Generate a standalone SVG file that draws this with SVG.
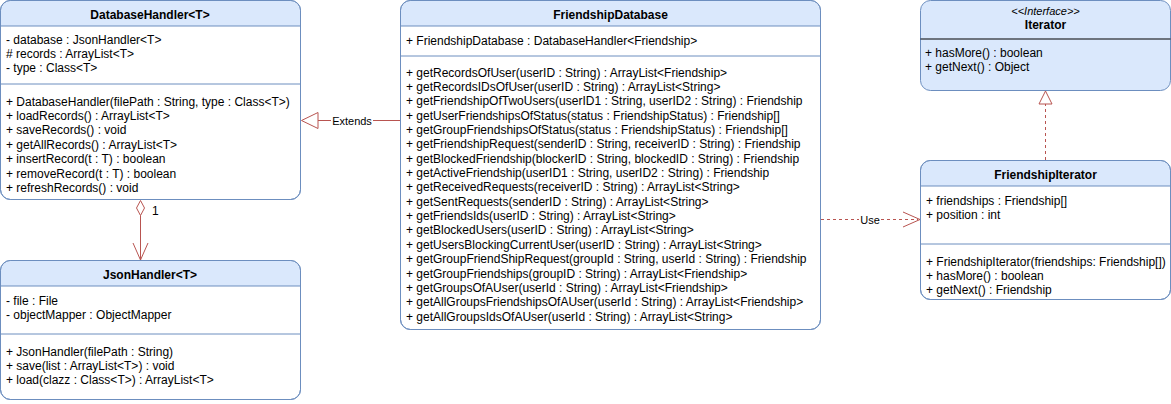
<svg xmlns="http://www.w3.org/2000/svg" width="1171" height="404" viewBox="0 0 1171 404">
<style>
.box{fill:#ffffff;stroke:#6c8ebf;stroke-width:1}
.hdr{fill:#dae8fc;stroke:none}
.sep{stroke:#6c8ebf;stroke-width:1}
.t{font-family:"Liberation Sans",Arial,Helvetica,sans-serif;font-size:12px;fill:#000}
.b{font-weight:bold}
.c{text-anchor:middle}
.i{font-style:italic;font-size:11px}
.con{stroke:#b85450;stroke-width:1;fill:none}
.dash{stroke-dasharray:3,3}
.lbl{font-family:"Liberation Sans",Arial,Helvetica,sans-serif;font-size:11px;fill:#000;text-anchor:middle}
</style>
<rect width="1171" height="404" fill="#ffffff"/>

<g id="DatabaseHandler">
<rect class="box" x="0.5" y="0.5" width="300" height="199" rx="10"/>
<path class="hdr" d="M1,26 V10.5 A10,10 0 0 1 10.5,1 H290.5 A10,10 0 0 1 300,10.5 V26 Z"/>
<rect x="0.5" y="0.5" width="300" height="199" rx="10" fill="none" stroke="#6c8ebf"/>
<line class="sep" x1="0.5" y1="26" x2="300.5" y2="26"/>
<line class="sep" x1="0.5" y1="84" x2="300.5" y2="84"/>
<text class="t b c" x="150" y="18.5">DatabaseHandler&lt;T&gt;</text>
<text class="t" x="6" y="43.5"><tspan x="6">- database : JsonHandler&lt;T&gt;</tspan><tspan x="6" dy="14.4"># records : ArrayList&lt;T&gt;</tspan><tspan x="6" dy="14.4">- type : Class&lt;T&gt;</tspan></text>
<text class="t" x="6" y="105.5"><tspan x="6">+ DatabaseHandler(filePath : String, type : Class&lt;T&gt;)</tspan><tspan x="6" dy="14.4">+ loadRecords() : ArrayList&lt;T&gt;</tspan><tspan x="6" dy="14.4">+ saveRecords() : void</tspan><tspan x="6" dy="14.4">+ getAllRecords() : ArrayList&lt;T&gt;</tspan><tspan x="6" dy="14.4">+ insertRecord(t : T) : boolean</tspan><tspan x="6" dy="14.4">+ removeRecord(t : T) : boolean</tspan><tspan x="6" dy="14.4">+ refreshRecords() : void</tspan></text>
</g>

<g id="JsonHandler">
<rect class="box" x="0.5" y="260.5" width="300" height="139" rx="10"/>
<path class="hdr" d="M1,286 V270.5 A10,10 0 0 1 10.5,261 H290.5 A10,10 0 0 1 300,270.5 V286 Z"/>
<rect x="0.5" y="260.5" width="300" height="139" rx="10" fill="none" stroke="#6c8ebf"/>
<line class="sep" x1="0.5" y1="286" x2="300.5" y2="286"/>
<line class="sep" x1="0.5" y1="334" x2="300.5" y2="334"/>
<text class="t b c" x="150" y="278.5">JsonHandler&lt;T&gt;</text>
<text class="t" x="6" y="304.5"><tspan x="6">- file : File</tspan><tspan x="6" dy="14.4">- objectMapper : ObjectMapper</tspan></text>
<text class="t" x="6" y="355.5"><tspan x="6">+ JsonHandler(filePath : String)</tspan><tspan x="6" dy="14.4">+ save(list : ArrayList&lt;T&gt;) : void</tspan><tspan x="6" dy="14.4">+ load(clazz : Class&lt;T&gt;) : ArrayList&lt;T&gt;</tspan></text>
</g>

<g id="FriendshipDatabase">
<rect class="box" x="400.5" y="0.5" width="420" height="329" rx="10"/>
<path class="hdr" d="M401,26 V10.5 A10,10 0 0 1 410.5,1 H810.5 A10,10 0 0 1 820,10.5 V26 Z"/>
<rect x="400.5" y="0.5" width="420" height="329" rx="10" fill="none" stroke="#6c8ebf"/>
<line class="sep" x1="400.5" y1="26" x2="820.5" y2="26"/>
<line class="sep" x1="400.5" y1="56" x2="820.5" y2="56"/>
<text class="t b c" x="610.5" y="18.5">FriendshipDatabase</text>
<text class="t" x="406" y="44.5">+ FriendshipDatabase : DatabaseHandler&lt;Friendship&gt;</text>
<text class="t" x="406" y="76.5"><tspan x="406">+ getRecordsOfUser(userID : String) : ArrayList&lt;Friendship&gt;</tspan><tspan x="406" dy="14.36">+ getRecordsIDsOfUser(userID : String) : ArrayList&lt;String&gt;</tspan><tspan x="406" dy="14.36">+ getFriendshipOfTwoUsers(userID1 : String, userID2 : String) : Friendship</tspan><tspan x="406" dy="14.36">+ getUserFriendshipsOfStatus(status : FriendshipStatus) : Friendship[]</tspan><tspan x="406" dy="14.36">+ getGroupFriendshipsOfStatus(status : FriendshipStatus) : Friendship[]</tspan><tspan x="406" dy="14.36">+ getFriendshipRequest(senderID : String, receiverID : String) : Friendship</tspan><tspan x="406" dy="14.36">+ getBlockedFriendship(blockerID : String, blockedID : String) : Friendship</tspan><tspan x="406" dy="14.36">+ getActiveFriendship(userID1 : String, userID2 : String) : Friendship</tspan><tspan x="406" dy="14.36">+ getReceivedRequests(receiverID : String) : ArrayList&lt;String&gt;</tspan><tspan x="406" dy="14.36">+ getSentRequests(senderID : String) : ArrayList&lt;String&gt;</tspan><tspan x="406" dy="14.36">+ getFriendsIds(userID : String) : ArrayList&lt;String&gt;</tspan><tspan x="406" dy="14.36">+ getBlockedUsers(userID : String) : ArrayList&lt;String&gt;</tspan><tspan x="406" dy="14.36">+ getUsersBlockingCurrentUser(userID : String) : ArrayList&lt;String&gt;</tspan><tspan x="406" dy="14.36">+ getGroupFriendShipRequest(groupId : String, userId : String) : Friendship</tspan><tspan x="406" dy="14.36">+ getGroupFriendships(groupID : String) : ArrayList&lt;Friendship&gt;</tspan><tspan x="406" dy="14.36">+ getGroupsOfAUser(userId : String) : ArrayList&lt;Friendship&gt;</tspan><tspan x="406" dy="14.36">+ getAllGroupsFriendshipsOfAUser(userId : String) : ArrayList&lt;Friendship&gt;</tspan><tspan x="406" dy="14.36">+ getAllGroupsIdsOfAUser(userId : String) : ArrayList&lt;String&gt;</tspan></text>
</g>

<g id="Iterator">
<rect x="920.5" y="0.5" width="250" height="90" rx="10" fill="#dae8fc" stroke="#6c8ebf"/>
<line x1="920.5" y1="39" x2="1170.5" y2="39" stroke="#000000"/>
<text class="t i c" x="1045.5" y="14.5">&lt;&lt;Interface&gt;&gt;</text>
<text class="t b c" x="1045.5" y="29">Iterator</text>
<text class="t" x="925" y="56.5"><tspan x="925">+ hasMore() : boolean</tspan><tspan x="925" dy="14.4">+ getNext() : Object</tspan></text>
</g>

<g id="FriendshipIterator">
<rect class="box" x="920.5" y="160.5" width="250" height="139" rx="10"/>
<path class="hdr" d="M921,186 V170.5 A10,10 0 0 1 930.5,161 H1160.5 A10,10 0 0 1 1170,170.5 V186 Z"/>
<rect x="920.5" y="160.5" width="250" height="139" rx="10" fill="none" stroke="#6c8ebf"/>
<line class="sep" x1="920.5" y1="186" x2="1170.5" y2="186"/>
<line class="sep" x1="920.5" y1="244" x2="1170.5" y2="244"/>
<text class="t b c" x="1045.5" y="178.5">FriendshipIterator</text>
<text class="t" x="926" y="204.5"><tspan x="926">+ friendships : Friendship[]</tspan><tspan x="926" dy="14.4">+ position : int</tspan></text>
<text class="t" x="926" y="265.5"><tspan x="926">+ FriendshipIterator(friendships: Friendship[])</tspan><tspan x="926" dy="14.4">+ hasMore() : boolean</tspan><tspan x="926" dy="14.4">+ getNext() : Friendship</tspan></text>
</g>

<g id="connectors">
<!-- Extends -->
<line class="con" x1="400" y1="120.5" x2="318" y2="120.5"/>
<path class="con" d="M318,112.5 L301.5,120.5 L318,128.5 Z" fill="#ffffff"/>
<rect x="331" y="113" width="42" height="14" fill="#ffffff"/>
<text class="lbl" x="352" y="124.5">Extends</text>
<!-- Aggregation -->
<path class="con" d="M140.5,200.5 L144.5,208 L140.5,215.5 L136.5,208 Z" fill="#ffffff"/>
<line class="con" x1="140.5" y1="215.5" x2="140.5" y2="260"/>
<path class="con" d="M133,243 L140.5,260 L148,243"/>
<text class="t" x="152" y="215">1</text>
<!-- Use -->
<line class="con dash" x1="821" y1="219.5" x2="918" y2="219.5"/>
<path class="con" d="M903,212 L920,219.5 L903,227"/>
<rect x="859" y="212" width="22" height="14" fill="#ffffff"/>
<text class="lbl" x="870" y="223.5">Use</text>
<!-- Realization -->
<line class="con dash" x1="1045.5" y1="160" x2="1045.5" y2="104"/>
<path class="con" d="M1039,104 L1045.5,91 L1052,104 Z" fill="#ffffff"/>
</g>
</svg>
